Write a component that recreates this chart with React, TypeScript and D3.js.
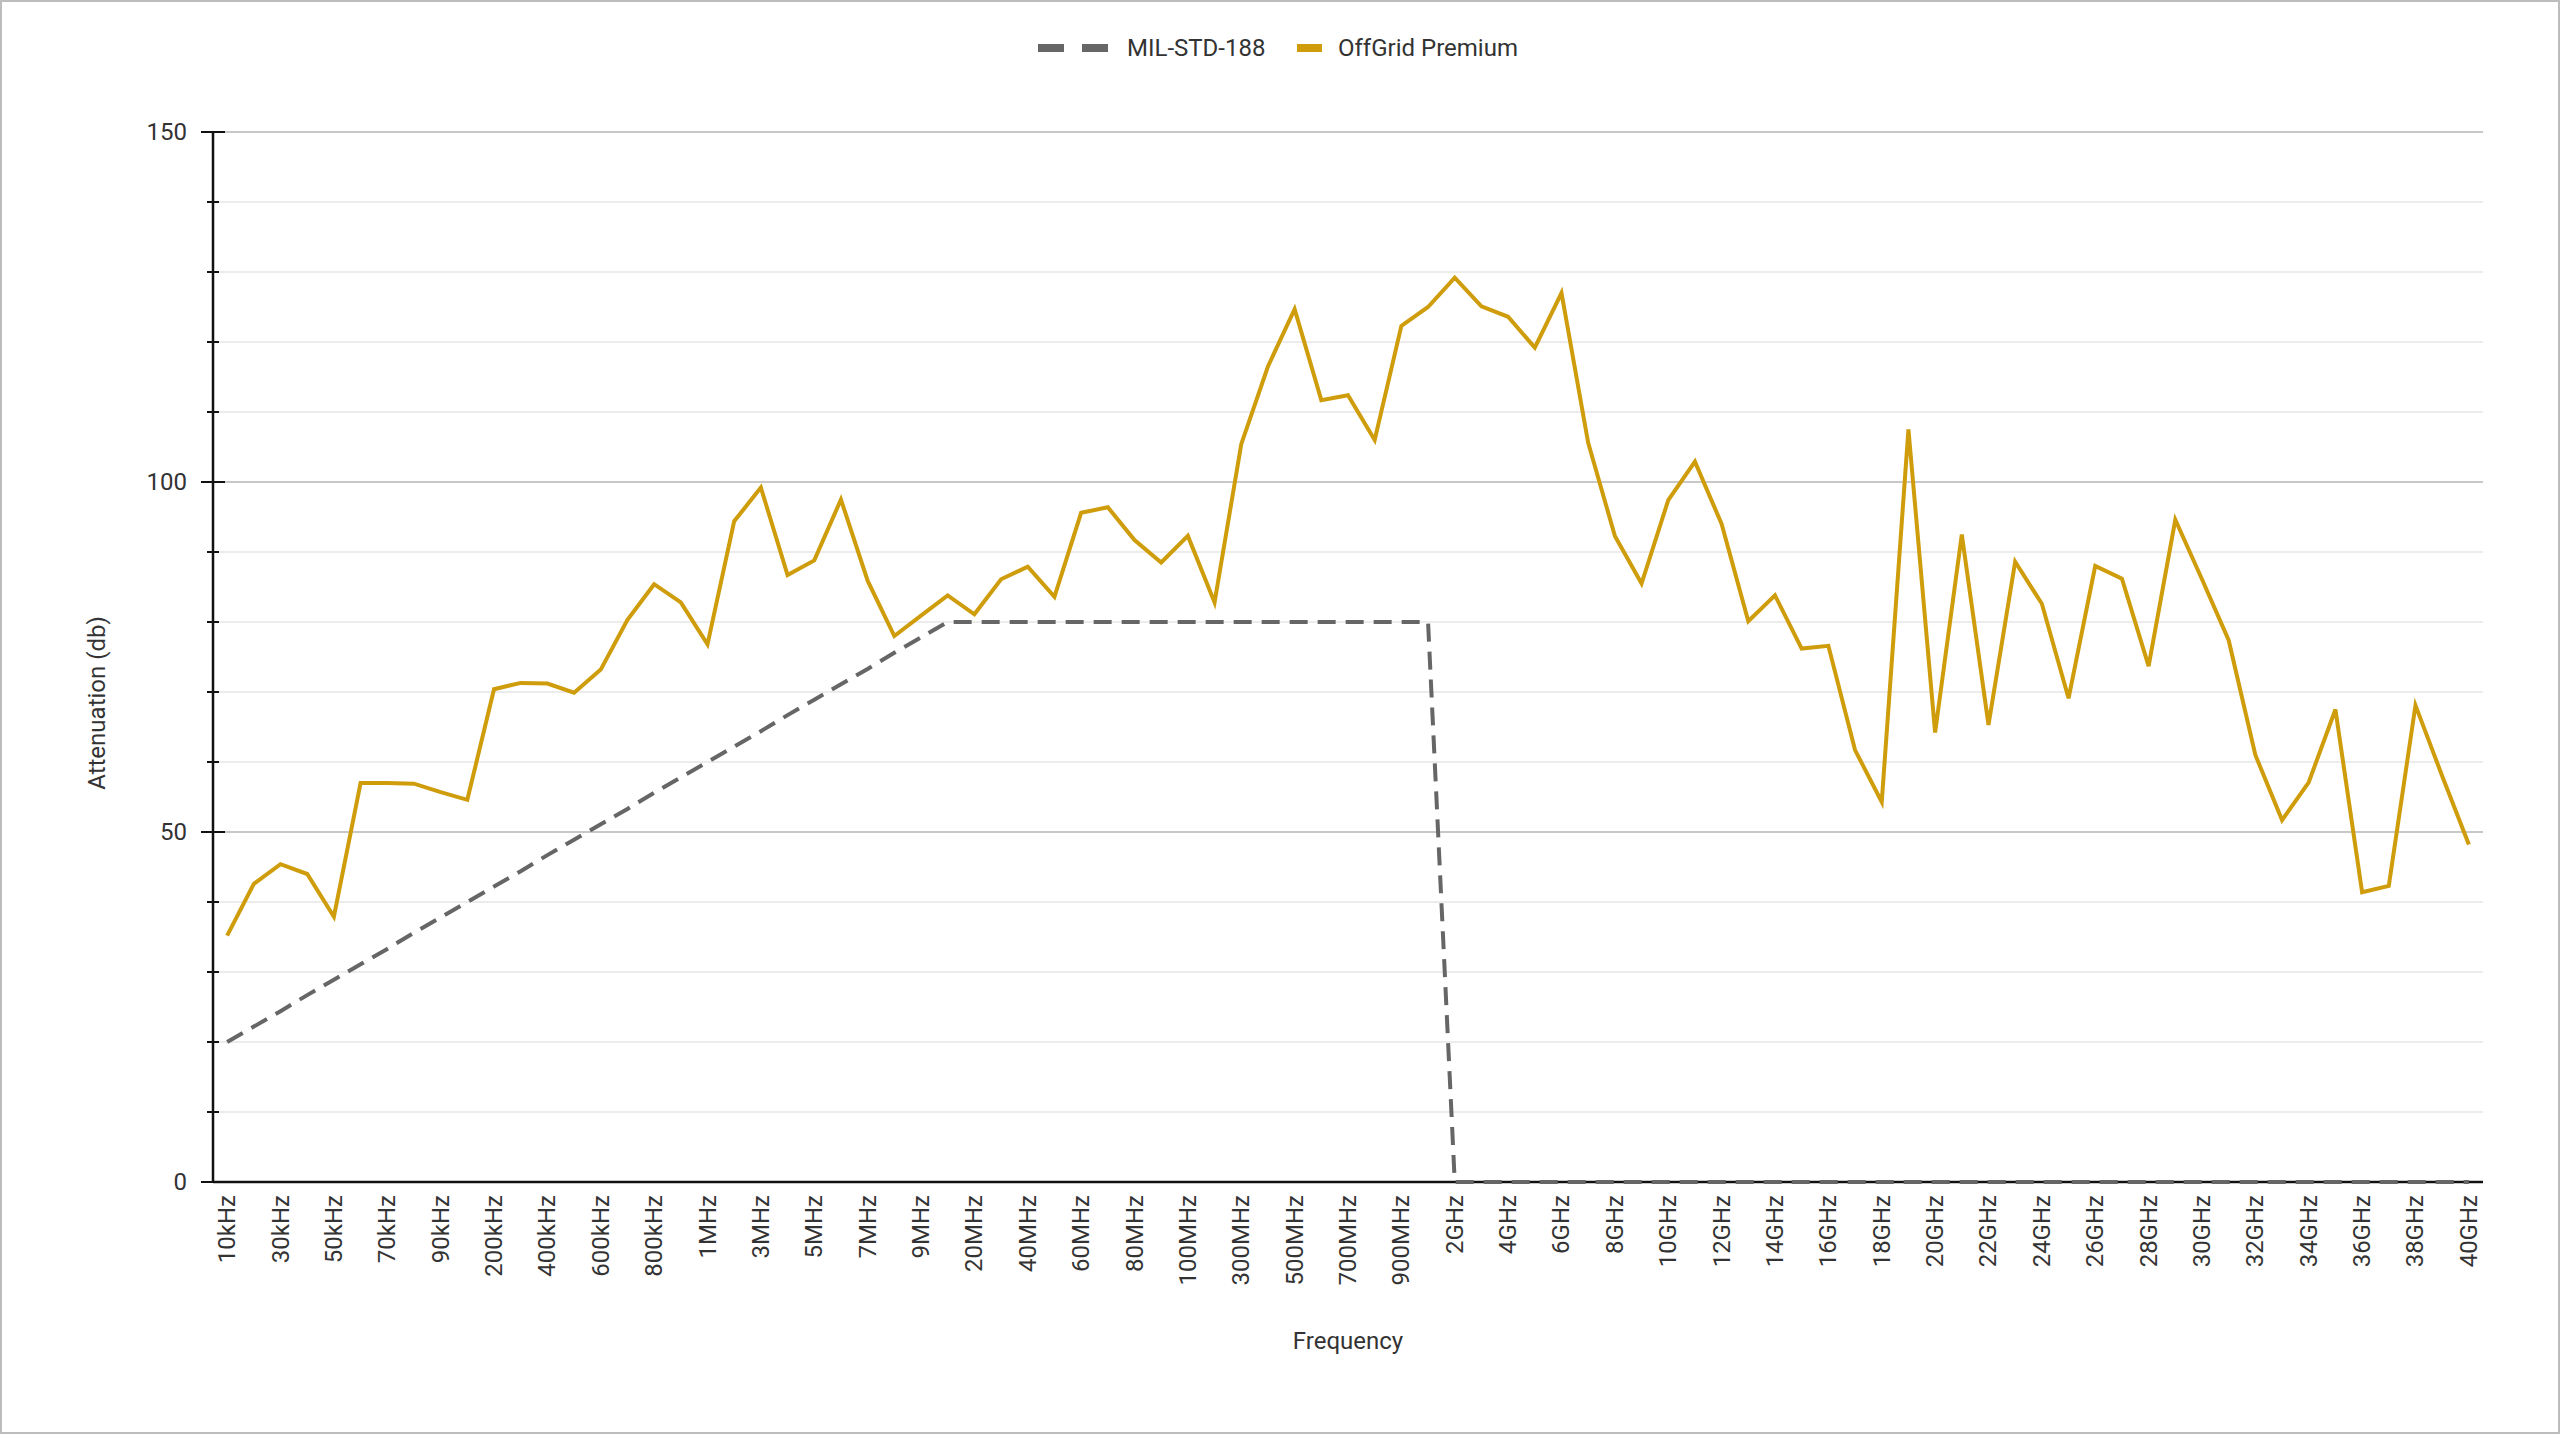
import * as d3 from "d3";

// frequency steps on the x axis
const categories = [
  "10kHz", "20kHz", "30kHz", "40kHz", "50kHz", "60kHz", "70kHz", "80kHz", "90kHz",
  "100kHz", "200kHz", "300kHz", "400kHz", "500kHz", "600kHz", "700kHz", "800kHz", "900kHz",
  "1MHz", "2MHz", "3MHz", "4MHz", "5MHz", "6MHz", "7MHz", "8MHz", "9MHz",
  "10MHz", "20MHz", "30MHz", "40MHz", "50MHz", "60MHz", "70MHz", "80MHz", "90MHz",
  "100MHz", "200MHz", "300MHz", "400MHz", "500MHz", "600MHz", "700MHz", "800MHz", "900MHz",
  "1GHz", "2GHz", "3GHz", "4GHz", "5GHz", "6GHz", "7GHz", "8GHz", "9GHz", "10GHz",
  "11GHz", "12GHz", "13GHz", "14GHz", "15GHz", "16GHz", "17GHz", "18GHz", "19GHz", "20GHz",
  "21GHz", "22GHz", "23GHz", "24GHz", "25GHz", "26GHz", "27GHz", "28GHz", "29GHz", "30GHz",
  "31GHz", "32GHz", "33GHz", "34GHz", "35GHz", "36GHz", "37GHz", "38GHz", "39GHz", "40GHz",
];

const milStd = [
  20, 22.2, 24.4, 26.7, 28.9, 31.1, 33.3, 35.6, 37.8,
  40, 42.2, 44.4, 46.7, 48.9, 51.1, 53.3, 55.6, 57.8,
  60, 62.2, 64.4, 66.7, 68.9, 71.1, 73.3, 75.6, 77.8,
  80, 80, 80, 80, 80, 80, 80, 80, 80,
  80, 80, 80, 80, 80, 80, 80, 80, 80,
  80, 0, 0, 0, 0, 0, 0, 0, 0, 0,
  0, 0, 0, 0, 0, 0, 0, 0, 0, 0,
  0, 0, 0, 0, 0, 0, 0, 0, 0, 0,
  0, 0, 0, 0, 0, 0, 0, 0, 0, 0,
];

const offGrid = [
  35.2, 42.6, 45.4, 44.0, 37.9, 57.0, 57.0, 56.9, 55.7,
  54.6, 70.4, 71.3, 71.2, 69.9, 73.2, 80.3, 85.4, 82.8,
  76.8, 94.4, 99.2, 86.7, 88.8, 97.5, 85.9, 78.0, 80.9,
  83.8, 81.1, 86.1, 87.9, 83.6, 95.6, 96.4, 91.7, 88.5,
  92.3, 82.8, 105.4, 116.5, 124.7, 111.7, 112.4, 106.0, 122.3,
  125.0, 129.2, 125.1, 123.6, 119.2, 127.0, 105.6, 92.3, 85.5, 97.4,
  102.9, 94.0, 80.1, 83.8, 76.2, 76.6, 61.7, 54.3, 107.5, 64.2,
  92.5, 65.3, 88.6, 82.6, 69.1, 88.0, 86.2, 73.7, 94.6, 86.1,
  77.4, 61.0, 51.7, 57.1, 67.5, 41.4, 42.3, 68.1, 58.0, 48.2,
];

const majorTicks = [0, 50, 100, 150];
const gridTicks = [0, 10, 20, 30, 40, 50, 60, 70, 80, 90, 100, 110, 120, 130, 140, 150];

const W = 2560;
const H = 1434;
const plot = { left: 213, right: 2483, top: 132, bottom: 1182 };
const font = "Roboto, 'Noto Sans', sans-serif";
const textColor = "#333333";
const gold = "#cf9d0b";
const grey = "#666666";

const App = () => {
  const x = d3
    .scalePoint<string>()
    .domain(categories)
    .range([plot.left, plot.right])
    .padding(0.53);
  const y = d3.scaleLinear().domain([0, 150]).range([plot.bottom, plot.top]);

  const line = d3
    .line<number>()
    .x((_, i) => x(categories[i])!)
    .y((d) => y(d));

  return (
    <div style={{ position: "absolute", left: 0, top: 0 }}>
      <svg width={W} height={H} style={{ display: "block", fontFamily: font }}>
        <rect x={1} y={1} width={W - 2} height={H - 2} fill="#fff" stroke="#bdbdbd" strokeWidth={2} />

        {/* legend */}
        <g>
          <line x1={1038} x2={1108} y1={48} y2={48} stroke={grey} strokeWidth={8} strokeDasharray="26 18" />
          <text x={1127} y={48} dominantBaseline="central" fontSize={24} fill={textColor}>
            MIL-STD-188
          </text>
          <line x1={1297} x2={1322} y1={48} y2={48} stroke={gold} strokeWidth={8} />
          <text x={1338} y={48} dominantBaseline="central" fontSize={24} fill={textColor}>
            OffGrid Premium
          </text>
        </g>

        {/* grid */}
        {gridTicks.map((t) => (
          <line
            key={t}
            x1={plot.left}
            x2={plot.right}
            y1={y(t)}
            y2={y(t)}
            stroke={t % 50 === 0 ? "#c8c8c8" : "#ececec"}
            strokeWidth={2}
          />
        ))}

        {/* y axis */}
        <line x1={plot.left} x2={plot.left} y1={plot.top} y2={plot.bottom} stroke="#111" strokeWidth={2.5} />
        {gridTicks.map((t) => {
          const major = t % 50 === 0;
          return (
            <line
              key={"tk" + t}
              x1={plot.left - (major ? 12 : 6)}
              x2={plot.left + (major ? 12 : 6)}
              y1={y(t)}
              y2={y(t)}
              stroke="#111"
              strokeWidth={2}
            />
          );
        })}
        {majorTicks.map((t) => (
          <text
            key={"yl" + t}
            x={187}
            y={y(t)}
            textAnchor="end"
            dominantBaseline="central"
            fontSize={24}
            fill={textColor}
          >
            {t}
          </text>
        ))}

        {/* x axis */}
        <line x1={plot.left} x2={plot.right} y1={plot.bottom} y2={plot.bottom} stroke="#111" strokeWidth={2.5} />
        {categories.map((c, i) =>
          i % 2 === 0 ? (
            <text
              key={c}
              transform={`translate(${x(c)},1195) rotate(-90)`}
              textAnchor="end"
              dominantBaseline="central"
              fontSize={24}
              fill={textColor}
            >
              {c}
            </text>
          ) : null
        )}

        {/* titles */}
        <text
          transform="translate(97,703) rotate(-90)"
          textAnchor="middle"
          dominantBaseline="central"
          fontSize={24}
          fill={textColor}
        >
          Attenuation (db)
        </text>
        <text x={(plot.left + plot.right) / 2} y={1349} textAnchor="middle" fontSize={24} fill={textColor}>
          Frequency
        </text>

        {/* series */}
        <path d={line(milStd)!} fill="none" stroke={grey} strokeWidth={4} strokeDasharray="18 10" />
        <path d={line(offGrid)!} fill="none" stroke={gold} strokeWidth={4} strokeLinejoin="miter" />
      </svg>
    </div>
  );
};

export default App;
